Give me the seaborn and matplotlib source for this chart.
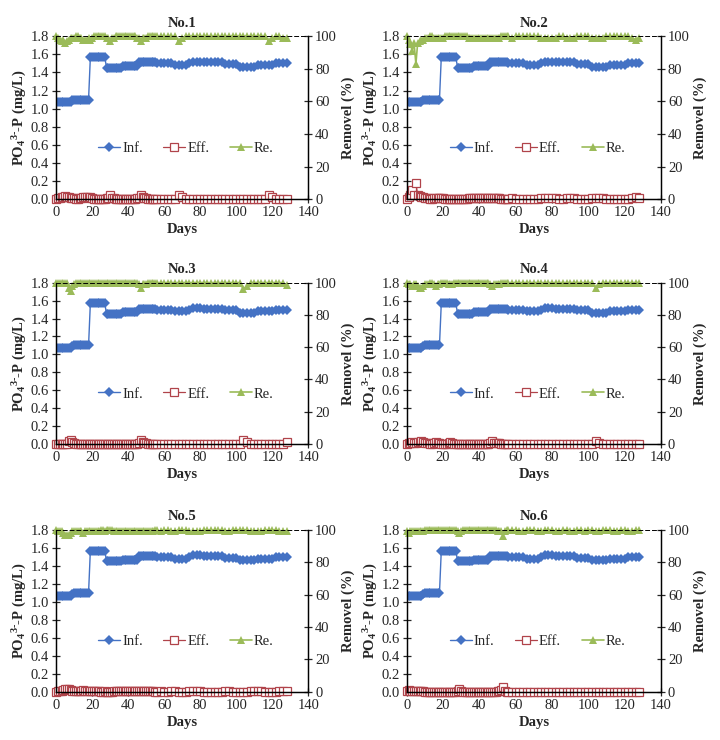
import matplotlib
matplotlib.use('Agg')
import matplotlib.pyplot as plt
import seaborn as sns

# Sampling days: daily up to day 56, every second day afterwards
DAYS = [
    0, 1, 2, 3, 4, 5, 6, 7, 8, 9,
    10, 11, 12, 13, 14, 15, 16, 17, 18, 19,
    20, 21, 22, 23, 24, 25, 26, 27, 28, 29,
    30, 31, 32, 33, 34, 35, 36, 37, 38, 39,
    40, 41, 42, 43, 44, 45, 46, 47, 48, 49,
    50, 51, 52, 53, 54, 55, 56,
    58, 60, 62, 64, 66, 68, 70, 72, 74, 76,
    78, 80, 82, 84, 86, 88, 90, 92, 94, 96,
    98, 100, 102, 104, 106, 108, 110, 112, 114, 116,
    118, 120, 122, 124, 126, 128,
]

# Influent PO4-P (mg/L), same feed for all six reactors
INF = [
    1.07, 1.07, 1.07, 1.07, 1.07, 1.07, 1.07, 1.07, 1.07, 1.09,
    1.10, 1.10, 1.10, 1.10, 1.10, 1.10, 1.10, 1.10, 1.10, 1.57,
    1.57, 1.57, 1.57, 1.57, 1.57, 1.57, 1.57, 1.57, 1.45, 1.45,
    1.45, 1.45, 1.45, 1.45, 1.45, 1.45, 1.45, 1.47, 1.47, 1.47,
    1.47, 1.47, 1.47, 1.47, 1.47, 1.47, 1.51, 1.51, 1.51, 1.51,
    1.51, 1.51, 1.51, 1.51, 1.51, 1.51, 1.50,
    1.50, 1.50, 1.50, 1.50, 1.48, 1.48, 1.48, 1.48, 1.50, 1.52,
    1.52, 1.52, 1.51, 1.51, 1.51, 1.51, 1.51, 1.51, 1.49, 1.49,
    1.49, 1.49, 1.46, 1.46, 1.46, 1.46, 1.46, 1.48, 1.48, 1.48,
    1.48, 1.48, 1.50, 1.50, 1.50, 1.50,
]

EFF_1 = [
    0.00, 0.01, 0.01, 0.02, 0.02, 0.03, 0.02, 0.02, 0.01, 0.01,
    0.01, 0.00, 0.00, 0.01, 0.01, 0.02, 0.02, 0.02, 0.01, 0.02,
    0.01, 0.00, 0.00, 0.00, 0.00, 0.00, 0.00, 0.00, 0.01, 0.01,
    0.04, 0.01, 0.01, 0.00, 0.00, 0.00, 0.00, 0.00, 0.00, 0.00,
    0.00, 0.00, 0.00, 0.00, 0.00, 0.01, 0.01, 0.04, 0.02, 0.01,
    0.01, 0.00, 0.00, 0.00, 0.00, 0.00, 0.00,
    0.00, 0.00, 0.00, 0.00, 0.00, 0.04, 0.02, 0.00, 0.00, 0.00,
    0.00, 0.00, 0.00, 0.00, 0.00, 0.00, 0.00, 0.00, 0.00, 0.00,
    0.00, 0.00, 0.00, 0.00, 0.00, 0.00, 0.00, 0.00, 0.00, 0.00,
    0.04, 0.02, 0.00, 0.00, 0.00, 0.00,
]
RE_1 = [
    100, 99, 98, 97, 98, 96, 97, 98, 99, 99,
    99, 100, 100, 99, 99, 98, 98, 98, 99, 98,
    99, 100, 100, 100, 100, 100, 100, 100, 99, 99,
    97, 99, 99, 100, 100, 100, 100, 100, 100, 100,
    100, 100, 100, 100, 100, 99, 99, 97, 99, 99,
    99, 100, 100, 100, 100, 100, 100,
    100, 100, 100, 100, 100, 97, 99, 100, 100, 100,
    100, 100, 100, 100, 100, 100, 100, 100, 100, 100,
    100, 100, 100, 100, 100, 100, 100, 100, 100, 100,
    97, 99, 100, 100, 99, 99,
]

EFF_2 = [
    0.00, 0.02, 0.05, 0.10, 0.05, 0.18, 0.04, 0.03, 0.02, 0.02,
    0.01, 0.01, 0.01, 0.00, 0.00, 0.01, 0.01, 0.01, 0.01, 0.01,
    0.01, 0.00, 0.00, 0.00, 0.00, 0.00, 0.00, 0.00, 0.00, 0.00,
    0.00, 0.00, 0.00, 0.00, 0.01, 0.01, 0.01, 0.01, 0.01, 0.01,
    0.01, 0.01, 0.01, 0.01, 0.01, 0.01, 0.01, 0.01, 0.01, 0.01,
    0.01, 0.01, 0.00, 0.00, 0.00, 0.00, 0.00,
    0.01, 0.00, 0.00, 0.00, 0.00, 0.00, 0.00, 0.00, 0.01, 0.01,
    0.01, 0.01, 0.01, 0.00, 0.00, 0.01, 0.01, 0.01, 0.00, 0.00,
    0.00, 0.00, 0.01, 0.01, 0.01, 0.01, 0.00, 0.00, 0.00, 0.00,
    0.00, 0.00, 0.00, 0.01, 0.02, 0.01,
]
RE_2 = [
    100, 98, 95, 91, 96, 83, 96, 97, 98, 98,
    99, 99, 99, 100, 100, 99, 99, 99, 99, 99,
    99, 100, 100, 100, 100, 100, 100, 100, 100, 100,
    100, 100, 100, 100, 99, 99, 99, 99, 99, 99,
    99, 99, 99, 99, 99, 99, 99, 99, 99, 99,
    99, 99, 100, 100, 100, 100, 100,
    99, 100, 100, 100, 100, 100, 100, 100, 99, 99,
    99, 99, 99, 100, 100, 99, 99, 99, 100, 100,
    100, 100, 99, 99, 99, 99, 100, 100, 100, 100,
    100, 100, 100, 99, 98, 99,
]

EFF_3 = [
    0.00, 0.00, 0.00, 0.00, 0.00, 0.00, 0.00, 0.03, 0.05, 0.02,
    0.01, 0.00, 0.00, 0.00, 0.00, 0.00, 0.00, 0.00, 0.00, 0.00,
    0.00, 0.00, 0.00, 0.00, 0.00, 0.00, 0.00, 0.00, 0.00, 0.00,
    0.00, 0.00, 0.00, 0.00, 0.00, 0.00, 0.00, 0.00, 0.00, 0.00,
    0.00, 0.00, 0.00, 0.00, 0.00, 0.00, 0.01, 0.04, 0.02, 0.01,
    0.01, 0.00, 0.00, 0.00, 0.00, 0.00, 0.00,
    0.00, 0.00, 0.00, 0.00, 0.00, 0.00, 0.00, 0.00, 0.00, 0.00,
    0.00, 0.00, 0.00, 0.00, 0.00, 0.00, 0.00, 0.00, 0.00, 0.00,
    0.00, 0.00, 0.00, 0.05, 0.02, 0.00, 0.00, 0.00, 0.00, 0.00,
    0.00, 0.00, 0.00, 0.00, 0.00, 0.02,
]
RE_3 = [
    100, 100, 100, 100, 100, 100, 100, 97, 95, 98,
    99, 100, 100, 100, 100, 100, 100, 100, 100, 100,
    100, 100, 100, 100, 100, 100, 100, 100, 100, 100,
    100, 100, 100, 100, 100, 100, 100, 100, 100, 100,
    100, 100, 100, 100, 100, 100, 99, 97, 99, 99,
    99, 100, 100, 100, 100, 100, 100,
    100, 100, 100, 100, 100, 100, 100, 100, 100, 100,
    100, 100, 100, 100, 100, 100, 100, 100, 100, 100,
    100, 100, 100, 96, 98, 100, 100, 100, 100, 100,
    100, 100, 100, 100, 100, 98.5,
]

EFF_4 = [
    0.00, 0.01, 0.01, 0.02, 0.01, 0.01, 0.02, 0.02, 0.03, 0.02,
    0.01, 0.01, 0.01, 0.00, 0.00, 0.01, 0.02, 0.01, 0.01, 0.00,
    0.00, 0.00, 0.00, 0.01, 0.02, 0.01, 0.00, 0.00, 0.00, 0.00,
    0.00, 0.00, 0.00, 0.00, 0.00, 0.00, 0.00, 0.00, 0.00, 0.00,
    0.00, 0.00, 0.00, 0.00, 0.00, 0.00, 0.01, 0.03, 0.01, 0.01,
    0.01, 0.01, 0.00, 0.00, 0.00, 0.00, 0.00,
    0.00, 0.00, 0.00, 0.00, 0.00, 0.00, 0.00, 0.00, 0.00, 0.00,
    0.00, 0.00, 0.00, 0.00, 0.00, 0.00, 0.00, 0.00, 0.00, 0.00,
    0.00, 0.00, 0.00, 0.03, 0.01, 0.00, 0.00, 0.00, 0.00, 0.00,
    0.00, 0.00, 0.00, 0.00, 0.00, 0.00,
]
RE_4 = [
    100, 99, 99, 98, 99, 99, 98, 97, 97, 98,
    99, 99, 99, 100, 100, 99, 98, 99, 99, 100,
    100, 100, 100, 99, 99, 99, 100, 100, 100, 100,
    100, 100, 100, 100, 100, 100, 100, 100, 100, 100,
    100, 100, 100, 100, 100, 100, 99, 98, 99, 99,
    99, 99, 100, 100, 100, 100, 100,
    100, 100, 100, 100, 100, 100, 100, 100, 100, 100,
    100, 100, 100, 100, 100, 100, 100, 100, 100, 100,
    100, 100, 100, 97, 99, 100, 100, 100, 100, 100,
    100, 100, 100, 100, 100, 100,
]

EFF_5 = [
    0.00, 0.01, 0.01, 0.01, 0.02, 0.03, 0.03, 0.03, 0.02, 0.01,
    0.01, 0.01, 0.01, 0.01, 0.01, 0.02, 0.01, 0.01, 0.01, 0.01,
    0.01, 0.01, 0.01, 0.01, 0.01, 0.00, 0.00, 0.01, 0.00, 0.00,
    0.00, 0.00, 0.01, 0.01, 0.01, 0.01, 0.01, 0.01, 0.01, 0.01,
    0.01, 0.01, 0.01, 0.01, 0.01, 0.01, 0.01, 0.01, 0.01, 0.01,
    0.01, 0.01, 0.01, 0.01, 0.01, 0.00, 0.00,
    0.01, 0.00, 0.00, 0.01, 0.01, 0.00, 0.00, 0.00, 0.01, 0.01,
    0.01, 0.01, 0.00, 0.00, 0.00, 0.00, 0.00, 0.00, 0.01, 0.01,
    0.00, 0.00, 0.00, 0.00, 0.00, 0.01, 0.01, 0.01, 0.01, 0.00,
    0.00, 0.00, 0.00, 0.01, 0.01, 0.01,
]
RE_5 = [
    100, 99, 99, 99, 98, 97, 97, 97, 98, 99,
    99, 99, 99, 99, 99, 98, 99, 99, 99, 99,
    99, 99, 99, 99, 99, 100, 100, 99, 100, 100,
    100, 100, 99, 99, 99, 99, 99, 99, 99, 99,
    99, 99, 99, 99, 99, 99, 99, 99, 99, 99,
    99, 99, 99, 99, 99, 100, 100,
    99, 100, 100, 99, 99, 100, 100, 100, 99, 99,
    99, 99, 100, 100, 100, 100, 100, 100, 99, 99,
    100, 100, 100, 100, 100, 99, 99, 99, 99, 100,
    100, 100, 100, 99, 99, 99,
]

EFF_6 = [
    0.01, 0.02, 0.01, 0.01, 0.01, 0.01, 0.01, 0.01, 0.01, 0.01,
    0.00, 0.00, 0.00, 0.00, 0.00, 0.00, 0.00, 0.00, 0.00, 0.00,
    0.00, 0.00, 0.00, 0.00, 0.00, 0.00, 0.00, 0.00, 0.01, 0.03,
    0.01, 0.00, 0.00, 0.00, 0.00, 0.00, 0.00, 0.00, 0.00, 0.00,
    0.00, 0.00, 0.00, 0.00, 0.00, 0.00, 0.00, 0.00, 0.00, 0.00,
    0.01, 0.01, 0.02, 0.05, 0.01, 0.00, 0.00,
    0.00, 0.00, 0.00, 0.00, 0.00, 0.00, 0.00, 0.00, 0.00, 0.00,
    0.00, 0.00, 0.00, 0.00, 0.00, 0.00, 0.00, 0.00, 0.00, 0.00,
    0.00, 0.00, 0.00, 0.00, 0.00, 0.00, 0.00, 0.00, 0.00, 0.00,
    0.00, 0.00, 0.00, 0.00, 0.00, 0.00,
]
RE_6 = [
    99, 98, 99, 99, 99, 99, 99, 99, 99, 99,
    100, 100, 100, 100, 100, 100, 100, 100, 100, 100,
    100, 100, 100, 100, 100, 100, 100, 100, 99, 98,
    99, 100, 100, 100, 100, 100, 100, 100, 100, 100,
    100, 100, 100, 100, 100, 100, 100, 100, 100, 100,
    99, 99, 99, 96, 99, 100, 100,
    100, 100, 99, 99, 100, 100, 100, 99, 99, 100,
    100, 100, 99, 99, 100, 100, 99, 99, 100, 100,
    99, 100, 100, 99, 99, 100, 100, 100, 99, 99,
    100, 100, 99, 99, 100, 100,
]

PANELES = [
    ('No.1', EFF_1, RE_1),
    ('No.2', EFF_2, RE_2),
    ('No.3', EFF_3, RE_3),
    ('No.4', EFF_4, RE_4),
    ('No.5', EFF_5, RE_5),
    ('No.6', EFF_6, RE_6),
]

AZUL = '#4472C4'
ROJO = '#B0434A'
VERDE = '#9BBB59'
TAM = 10.5

# left, bottom, width, height in figure fractions
POSICIONES = [
    [0.078, 0.731, 0.350, 0.220],
    [0.565, 0.731, 0.353, 0.220],
    [0.078, 0.400, 0.350, 0.218],
    [0.565, 0.400, 0.353, 0.218],
    [0.078, 0.065, 0.350, 0.219],
    [0.565, 0.065, 0.353, 0.219],
]


def dibujar_panel(fig, pos, titulo, eff, re):
    ax = fig.add_axes(pos)
    ax2 = ax.twinx()

    sns.lineplot(x=DAYS, y=INF, ax=ax, color=AZUL, marker='D', markersize=5,
                 markeredgewidth=0, linewidth=1.0, label='Inf.')
    sns.lineplot(x=DAYS, y=eff, ax=ax, color=ROJO, marker='s', markersize=6,
                 markerfacecolor='white', markeredgecolor=ROJO, markeredgewidth=0.9,
                 linewidth=0.9, label='Eff.', clip_on=False)
    sns.lineplot(x=DAYS, y=re, ax=ax2, color=VERDE, marker='^', markersize=5.5,
                 markeredgewidth=0, linewidth=1.2, label='Re.', clip_on=False)

    ax.set_xlim(0, 140)
    ax.set_ylim(0, 1.8)
    ax2.set_ylim(0, 100)
    ax.set_xticks(range(0, 141, 20))
    ax.set_yticks([i / 10 for i in range(0, 19, 2)])
    ax.set_yticklabels([f'{i / 10:.1f}' for i in range(0, 19, 2)])
    ax2.set_yticks(range(0, 101, 20))

    for a in (ax, ax2):
        a.tick_params(direction='inout', length=6, width=0.9, labelsize=TAM, pad=2)
        for s in a.spines.values():
            s.set_color('black')
            s.set_linewidth(0.9)
    ax.spines['top'].set_visible(False)
    ax2.spines['top'].set_visible(True)
    ax2.spines['top'].set_linestyle((0, (4, 3)))
    ax2.spines['top'].set_linewidth(0.7)

    ax.set_xlabel('Days', fontweight='bold', fontsize=TAM, labelpad=3)
    ax.set_ylabel(r'PO$_4$$^{3\text{-}}$-P (mg/L)', fontweight='bold', fontsize=TAM, labelpad=1)
    ax2.set_ylabel('Removel (%)', fontweight='bold', fontsize=TAM, labelpad=3)
    ax.set_title(titulo, fontweight='bold', fontsize=TAM, pad=7)

    h1, l1 = ax.get_legend_handles_labels()
    h2, l2 = ax2.get_legend_handles_labels()
    ax.get_legend().remove()
    ax2.get_legend().remove()
    ax2.legend(h1 + h2, l1 + l2, loc='center', bbox_to_anchor=(0.515, 0.31), ncol=3,
               frameon=False, fontsize=TAM, handlelength=1.5, handletextpad=0.15,
               columnspacing=1.4)


def main():
    sns.set_style('ticks')
    plt.rcParams['font.family'] = ['Liberation Serif', 'DejaVu Serif']
    plt.rcParams['mathtext.fontset'] = 'custom'
    plt.rcParams['mathtext.rm'] = 'Liberation Serif:bold'
    plt.rcParams['mathtext.it'] = 'Liberation Serif:bold'
    plt.rcParams['mathtext.bf'] = 'Liberation Serif:bold'
    plt.rcParams['mathtext.default'] = 'rm'

    fig = plt.figure(figsize=(7.2, 7.4), dpi=100)
    for pos, (titulo, eff, re) in zip(POSICIONES, PANELES):
        dibujar_panel(fig, pos, titulo, eff, re)
    fig.savefig('out.png', dpi=100, facecolor='white')
    plt.close(fig)


if __name__ == '__main__':
    main()
